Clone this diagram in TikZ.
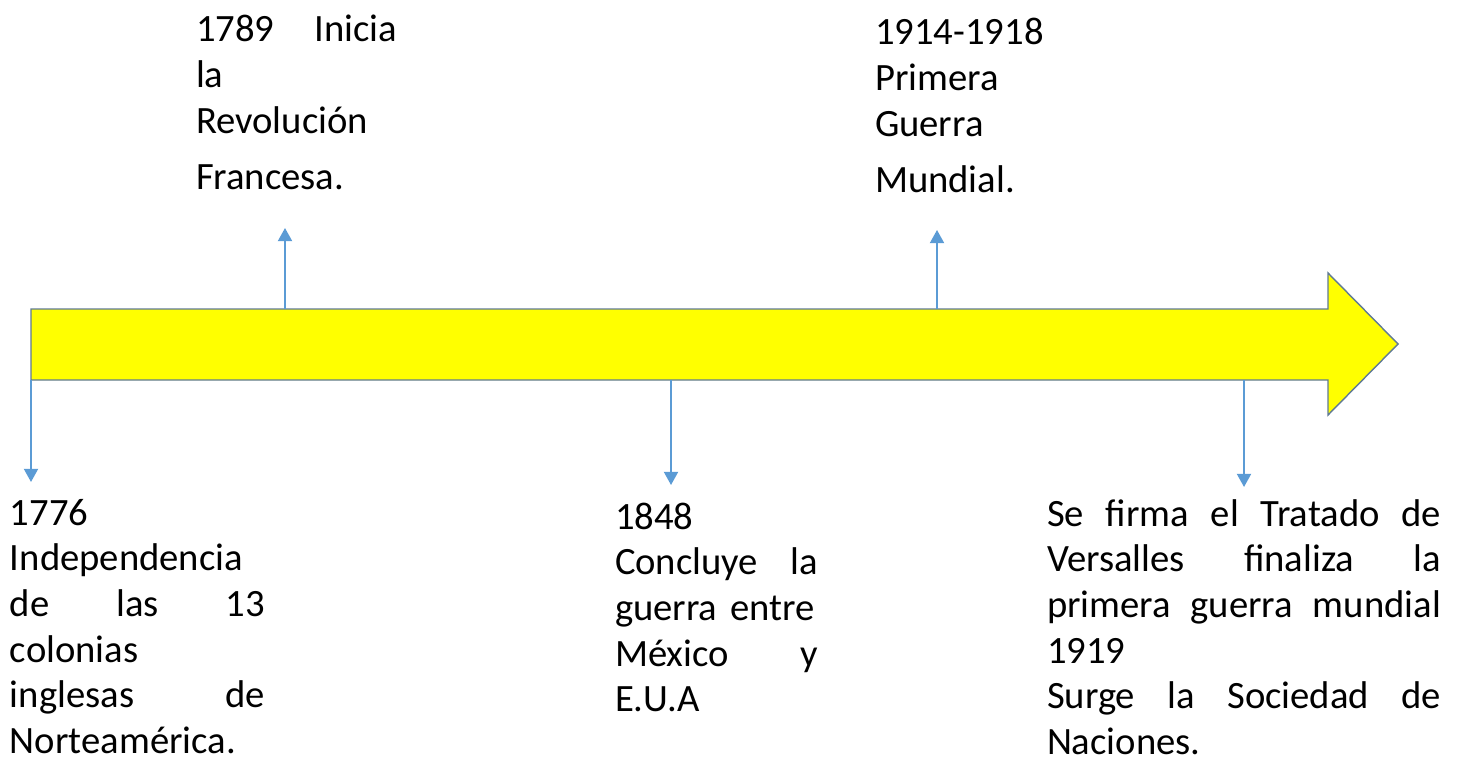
\documentclass[tikz,border=0pt]{standalone}
\usepackage{fontspec}
\setmainfont{Carlito}
\usetikzlibrary{arrows.meta}
\definecolor{barfill}{RGB}{255,255,0}
\definecolor{barline}{RGB}{96,122,148}
\definecolor{linkblue}{RGB}{91,155,213}
% one justified line inside a node
\newcommand{\jline}[1]{\makebox[\linewidth][s]{\spaceskip=.3em plus 1fil\relax #1}}

\begin{document}
\begin{tikzpicture}[x=0.02cm, y=-0.02cm,
    link/.style={draw=linkblue, line width=1.1pt, -{Triangle[width=8pt,length=7.5pt]}},
    event/.style={anchor=base west, inner sep=0pt, outer sep=0pt, align=left,
      font=\fontsize{22}{26}\selectfont}]
  \useasboundingbox (0,0) rectangle (1462,763);

  % yellow timeline arrow
  \draw[barline, line width=0.8pt, fill=barfill]
    (31,309) -- (1328,309) -- (1328,273) -- (1398,344)
    -- (1328,415) -- (1328,380) -- (31,380) -- cycle;

  % connectors: name / x / start on bar / tip
  \foreach \name/\x/\ya/\yb in {1776/31/380/482, 1789/285/309/228,
      1848/671/380/485, 1914/937/309/230, 1919/1244/380/487} {
    \coordinate (s\name) at (\x,\ya);
    \coordinate (e\name) at (\x,\yb);
    \draw[link] (s\name) -- (e\name);
  }

  % events above the line
  \node[event, text width=4.02cm] (t1789) at (196,42)
    {\jline{1789 Inicia}\\ la\\ Revolución\\[6pt] Francesa.};
  \node[event, text width=3.6cm] (t1914) at (875,45)
    {1914-1918\\ Primera\\ Guerra\\[6pt] Mundial.};

  % events below the line
  \node[event, text width=5.1cm] (t1776) at (10,525)
    {1776\\ Independencia\\ \jline{de las 13}\\ colonias\\
     \jline{inglesas de}\\ Norteamérica.};
  \node[event, text width=4.06cm] (t1848) at (615,529)
    {1848\\ \jline{Concluye la}\\ guerra entre\\ \jline{México y}\\ E.U.A};
  \node[event, text width=7.88cm] (t1919) at (1047,526)
    {\jline{Se firma el Tratado de}\\ \jline{Versalles finaliza la}\\
     \jline{primera guerra mundial}\\ 1919\\
     \jline{Surge la Sociedad de}\\ Naciones.};
\end{tikzpicture}
\end{document}
